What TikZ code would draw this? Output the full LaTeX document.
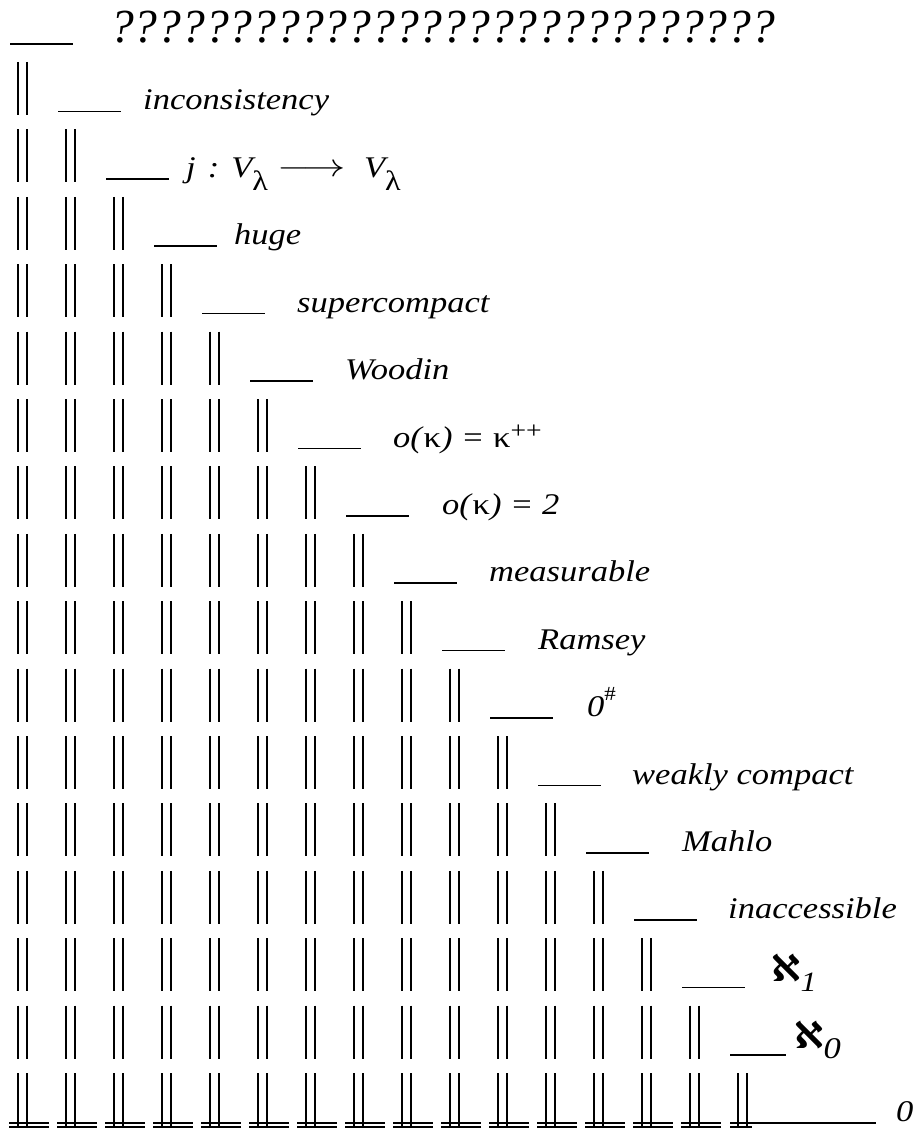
\documentclass[tikz,border=0pt]{standalone}
\usepackage{fontspec}
\setmainfont{Liberation Serif}
\newfontfamily\lblfont[FakeStretch=1.15]{Liberation Serif}
\newfontfamily\alephfont{DejaVu Sans}
\newcommand{\lowidx}[3][28]{\raisebox{#2}{\fontsize{#1}{#1}\selectfont #3}}
\newcommand{\highidx}[3]{\raisebox{#1}{\fontsize{#2}{#2}\selectfont #3}}
\newcommand{\alephsym}{\raisebox{5pt}{\alephfont\bfseries\fontsize{37}{37}\selectfont ℵ}}

\begin{document}
\begin{tikzpicture}[x=1pt,y=-1pt,
  bar/.style={line width=1.7pt},
  rule/.style={line width=1.5pt},
  lbl/.style={anchor=base west,inner sep=0pt,font=\lblfont\fontsize{30}{34}\selectfont\itshape}]
\useasboundingbox (0,0) rectangle (913,1129);

\foreach \k in {1,...,16}{
  \foreach \j in {1,...,\k}{
    \draw[bar] ({18+48*(\j-1)},{42.6+67.4*\k-48}) -- ++(0,53);
    \draw[bar] ({27+48*(\j-1)},{42.6+67.4*\k-48}) -- ++(0,53);
  }
}

\foreach \k in {0,...,14}
  \draw[rule] ({10+48*\k},{44+67.4*\k}) -- ++(63,0);
\draw[rule] (730,{44+67.4*15}) -- ++(56,0);

\foreach \j in {1,...,15}{
  \draw[rule] ({9+48*(\j-1)},1123) -- ++(40,0);
  \draw[rule] ({9+48*(\j-1)},1127) -- ++(40,0);
}
\draw[rule] (730,1123) -- (876,1123);
\draw[rule] (730,1127) -- ++(22,0);

\node[lbl,font=\fontsize{47.5}{52}\selectfont\itshape] (unknown) at (110,42.6) {????????????????????????????};
\node[lbl] (incons) at (143,110) {inconsistency};
\node[lbl] (rank) at (186,177.4) {j\hspace{12pt}:\hspace{12pt}V\lowidx{-13pt}{\textup{λ}}\hspace{10pt}\raisebox{1pt}{\scalebox{1.7}[1.3]{$\longrightarrow$}}\hspace{18pt}V\lowidx{-13pt}{\textup{λ}}};
\node[lbl] (huge) at (234,244.8) {huge};
\node[lbl] (supercpt) at (297,312.2) {supercompact};
\node[lbl] (woodin) at (345,379.6) {Woodin};
\node[lbl] (orderpp) at (393,447) {o(\textup{κ}) = \textup{κ}\highidx{9pt}{24}{\textup{++}}};
\node[lbl] (ordertwo) at (442,514.4) {o(\textup{κ}) = 2};
\node[lbl] (measur) at (489,581.8) {measurable};
\node[lbl] (ramsey) at (538,649.2) {Ramsey};
\node[lbl] (zerosharp) at (587,716.6) {0\highidx{16pt}{20}{\textup{\#}}};
\node[lbl] (weakcpt) at (632,784) {weakly compact};
\node[lbl] (mahlo) at (682,851.4) {Mahlo};
\node[lbl] (inacc) at (728,918.8) {inaccessible};
\node[lbl] (alephone) at (771,986.2) {\alephsym\lowidx{-5pt}{1}};
\node[lbl] (alephzero) at (794,1053.6) {\alephsym\lowidx[30]{-5pt}{0}};
\node[lbl] (zero) at (896,1121) {0};
\end{tikzpicture}
\end{document}
